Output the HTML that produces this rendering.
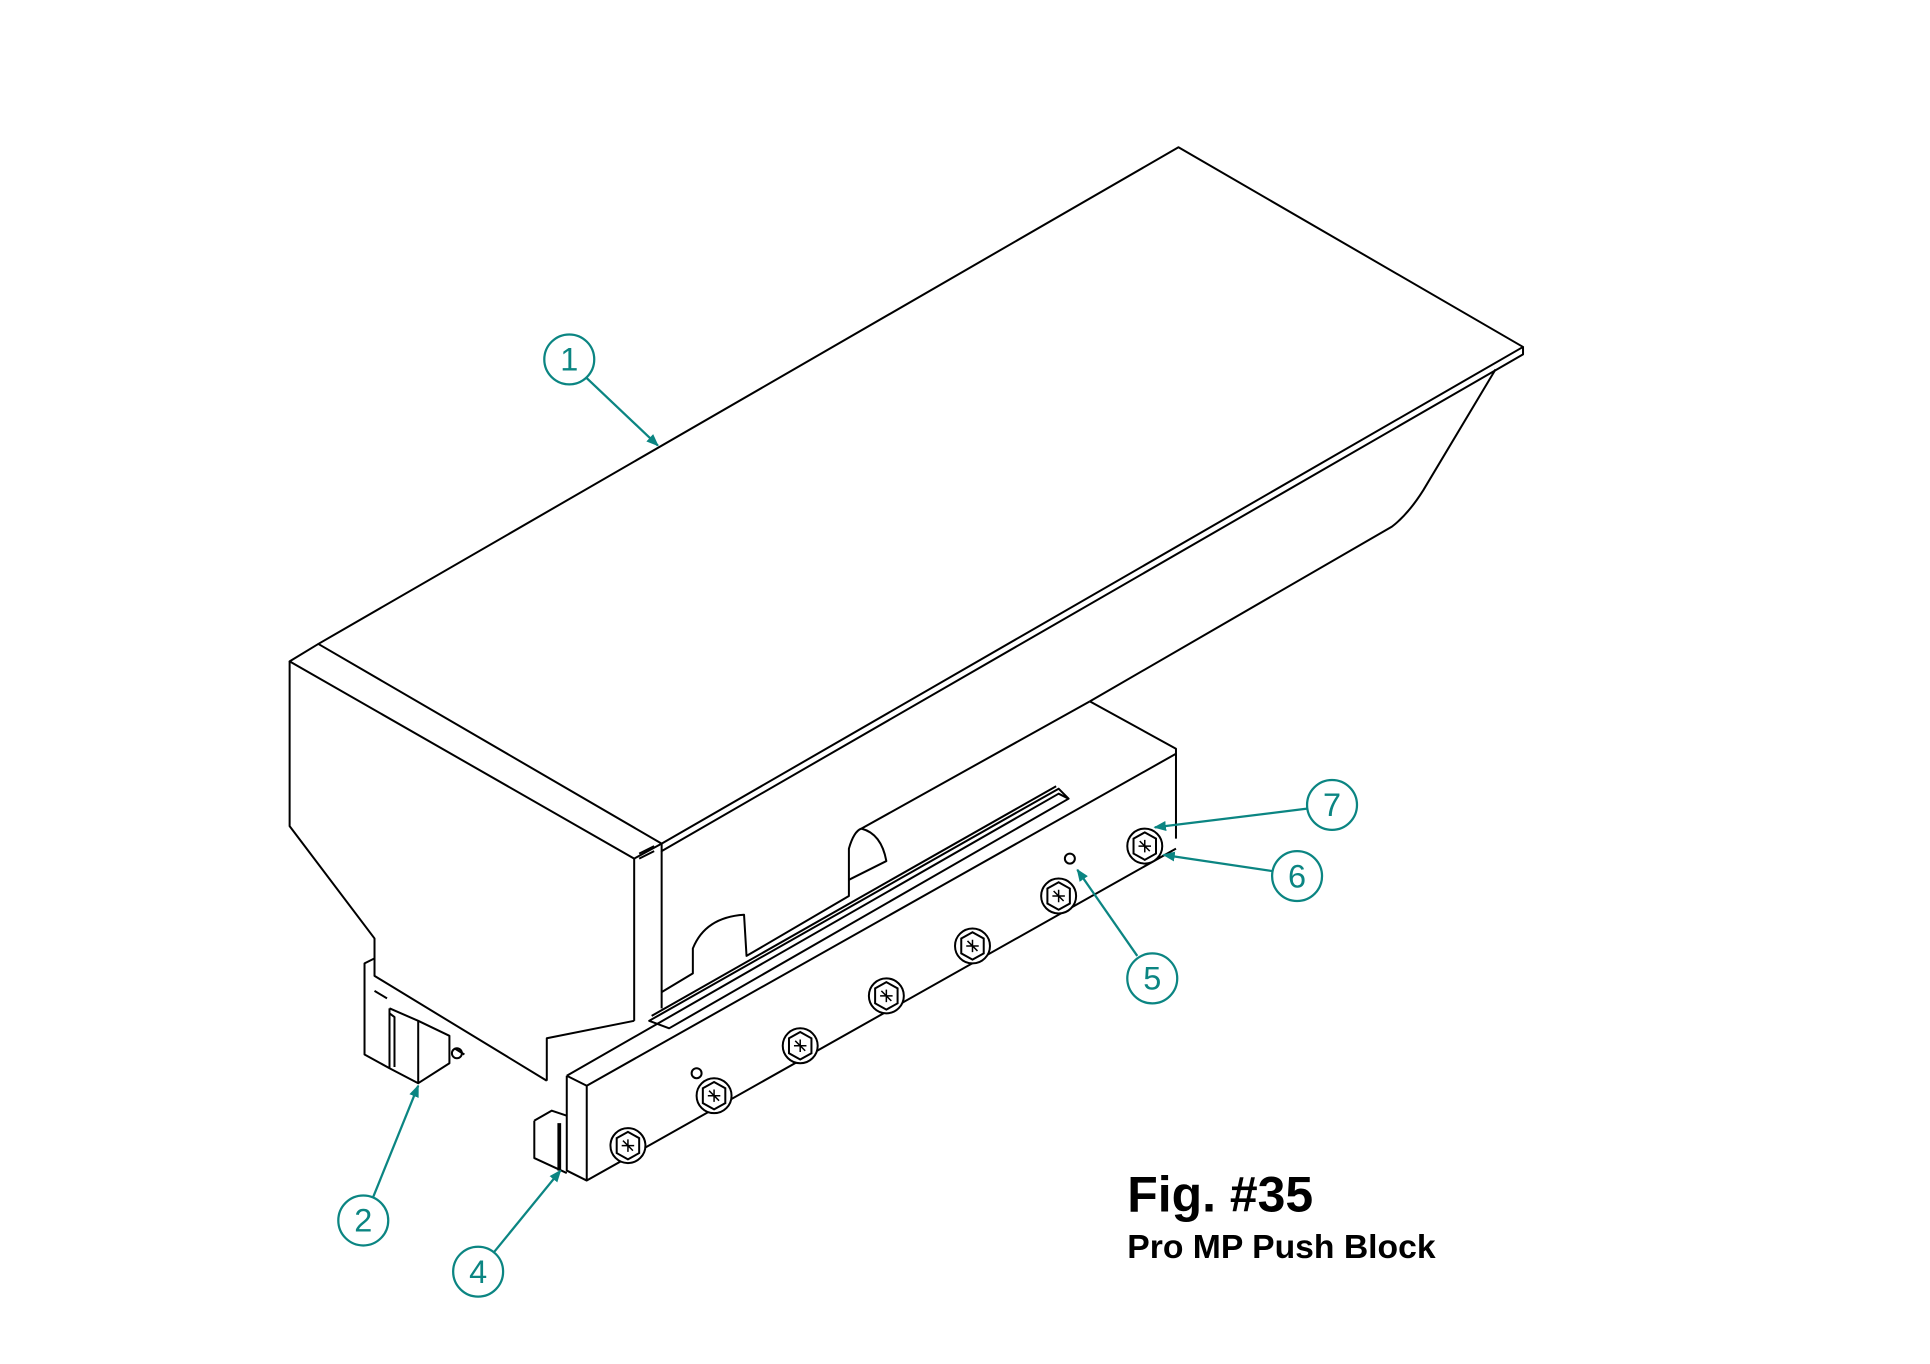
<!DOCTYPE html>
<html><head><meta charset="utf-8"><style>
html,body{margin:0;padding:0;background:#fff;}
svg{display:block;}
</style></head><body>
<svg width="1930" height="1364" viewBox="0 0 1546 1093" preserveAspectRatio="none" xmlns="http://www.w3.org/2000/svg">
<defs>
<marker id="a" markerWidth="10" markerHeight="8" refX="9" refY="4" orient="auto" markerUnits="userSpaceOnUse">
<path d="M0,0 L10,4 L0,8 z" fill="#0b8582"/></marker>
<g id="b"><circle r="14"/><path d="M-9,-6 L0,-11 L9,-6 L9,6 L0,11 L-9,6 Z"/><path d="M-5,0 L5,0 M0,-5 L0,5 M-4,-4 L4,4" stroke-width="1.2"/></g>
</defs>
<g fill="none" stroke="#000" stroke-width="1.6" stroke-linejoin="round">
<path d="M944,118 L255,516 L530,676 L1220,278 Z"/>
<path d="M1220,278 L1220,284 L530,682 L530,676"/>
<path d="M255,516 L232,530 L508,688 L530,676"/>
<path d="M232,530 L232,662 L300,752 L300,782 L438,866"/>
<path d="M508,688 L508,818 M530,682 L530,808"/>
<path d="M438,866 L438,832 L508,818"/>
<path d="M512,684 L524,678 M512,688 L524,682"/>
<path d="M1198,296 L1140,393 Q1128,412 1115,422 L873,562"/>
<path d="M873,562 L942,600 L942,672"/>
<path d="M530,795 L555,780 L555,760 Q565,735 596,733 L598,766 L680,718 L680,680 Q684,666 690,664 L873,562"/>
<path d="M690,664 Q706,668 710,690 L680,705"/>
<path d="M454,862 L470,870 L942,604 M454,862 L454,938 L470,946 L942,680 M470,870 L470,946"/>
<path d="M454,862 L848,636 L856,640"/>
<path d="M520,818 L848,632 L856,640 L536,824 Z"/>
<path d="M522,814 L846,630"/>
<path d="M300,768 L292,772 L292,845 L312,856 M312,808 L312,856 L335,868 L360,852 L360,830 L335,818 L312,808"/>
<path d="M335,818 L335,868 M310,800 L300,794"/>
<path d="M312,812 L316,815 L316,855 M364,840 L372,845"/>
<path d="M428,898 L428,928 L454,940 M428,898 L442,890 L454,894"/>
<path d="M448,900 L448,938" stroke-width="3"/>
<circle cx="366" cy="844" r="4"/>
</g>
<g fill="#fff" stroke="#000" stroke-width="1.6">
<use href="#b" x="503" y="918"/><use href="#b" x="572" y="878"/><use href="#b" x="641" y="838"/>
<use href="#b" x="710" y="798"/><use href="#b" x="779" y="758"/><use href="#b" x="848" y="718"/>
<use href="#b" x="917" y="678"/>
<circle cx="558" cy="860" r="4"/><circle cx="857" cy="688" r="4"/>
</g>
<g stroke="#0b8582" stroke-width="1.8" fill="none">
<circle cx="456" cy="288" r="20"/><circle cx="291" cy="978" r="20"/><circle cx="383" cy="1019" r="20"/>
<circle cx="923" cy="784" r="20"/><circle cx="1039" cy="702" r="20"/><circle cx="1067" cy="645" r="20"/>
<line x1="470" y1="303" x2="527" y2="357" marker-end="url(#a)"/>
<line x1="299" y1="959" x2="335" y2="870" marker-end="url(#a)"/>
<line x1="396" y1="1003" x2="449" y2="938" marker-end="url(#a)"/>
<line x1="911" y1="766" x2="863" y2="697" marker-end="url(#a)"/>
<line x1="1019" y1="698" x2="932" y2="685" marker-end="url(#a)"/>
<line x1="1047" y1="648" x2="925" y2="663" marker-end="url(#a)"/>
</g>
<g fill="#0b8582" font-family="Liberation Sans, sans-serif" font-size="26" text-anchor="middle">
<text x="456" y="297">1</text><text x="291" y="987">2</text><text x="383" y="1028">4</text>
<text x="923" y="793">5</text><text x="1039" y="711">6</text><text x="1067" y="654">7</text>
</g>
<text x="903" y="971" font-family="Liberation Sans, sans-serif" font-weight="bold" font-size="40">Fig. #35</text>
<text x="903" y="1008" font-family="Liberation Sans, sans-serif" font-weight="bold" font-size="27">Pro MP Push Block</text>
</svg>
</body></html>
